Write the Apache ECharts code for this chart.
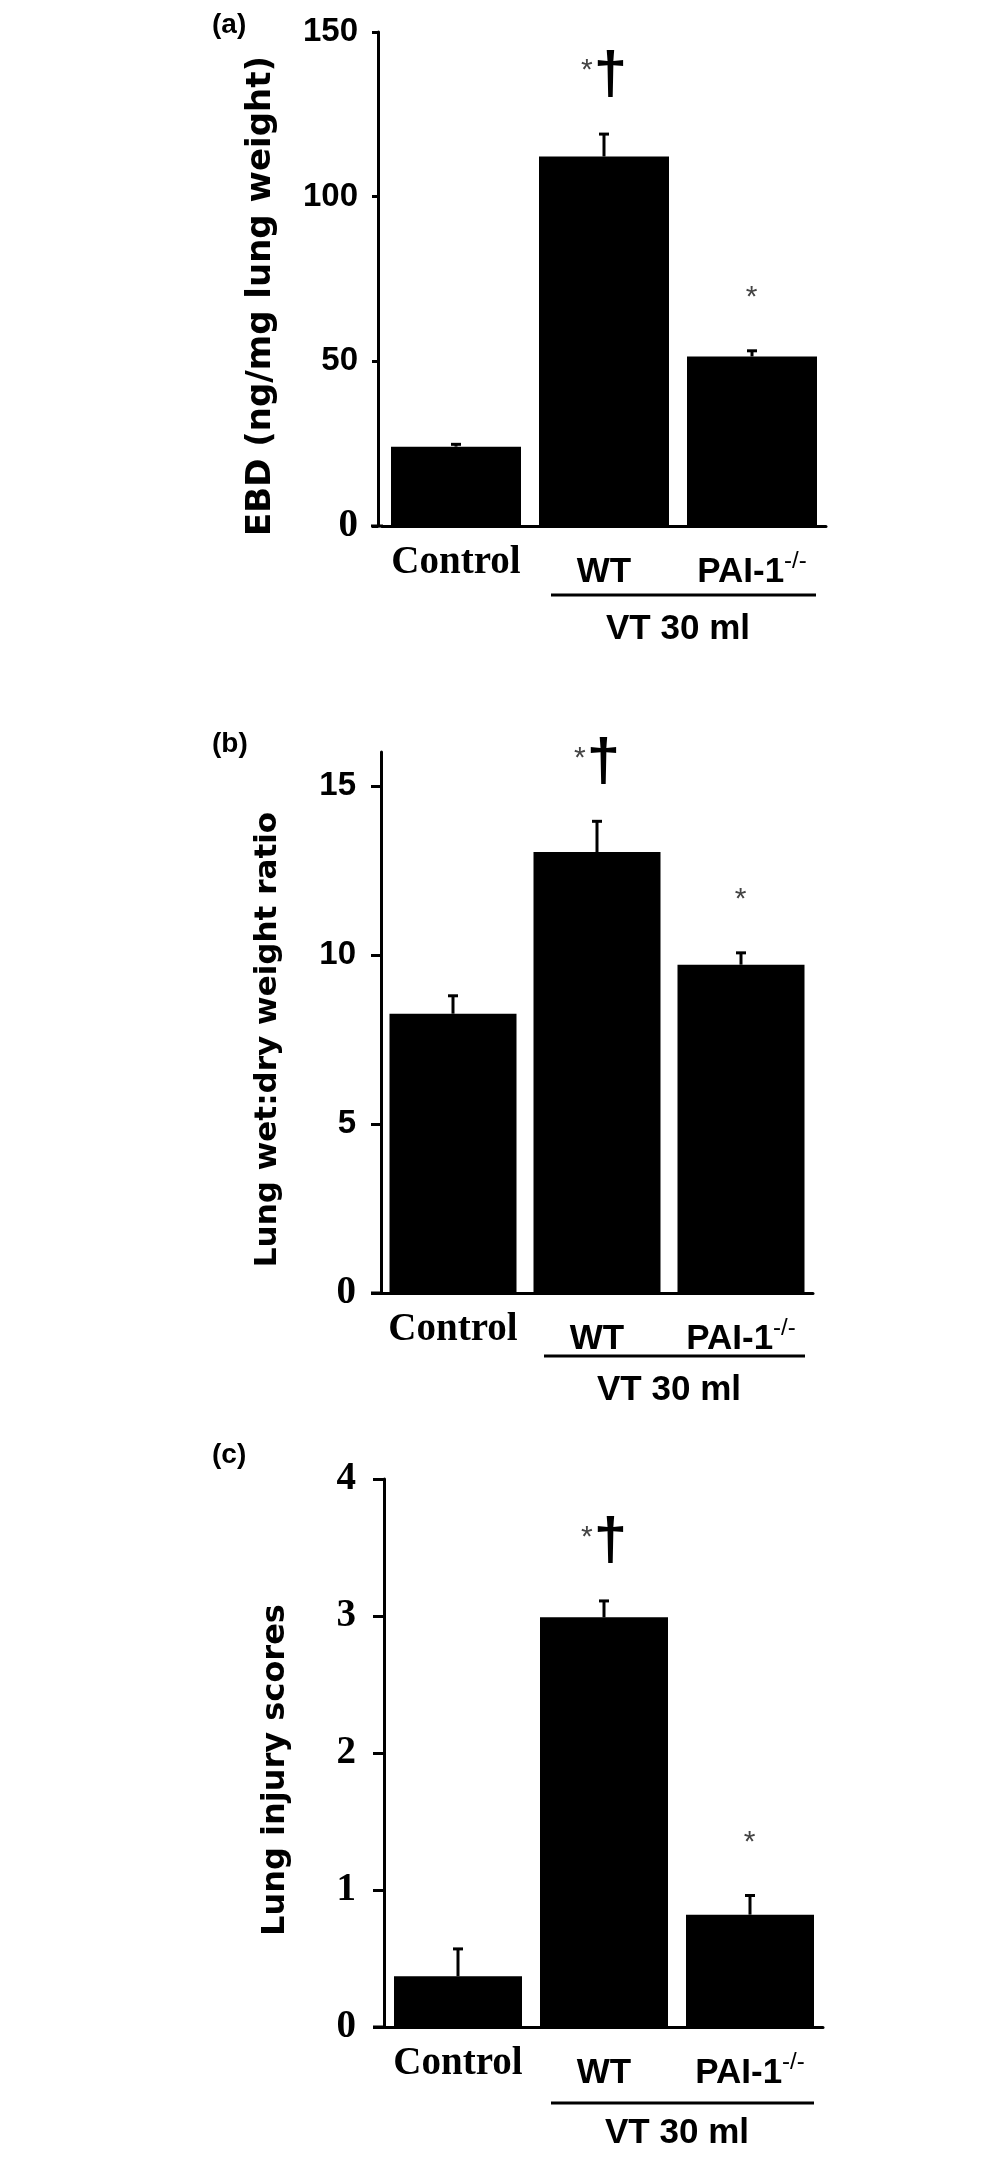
<!DOCTYPE html>
<html style="height: 100%">
<head>
<meta charset="utf-8">
<script src="https://cdn.jsdelivr.net/npm/echarts@6/dist/echarts.min.js"></script>
</head>
<body style="height: 100%; margin: 0; background: #fff;">
<div id="container" style="width: 1004px; height: 2167px"></div>
<script type="text/javascript">
// groups on the x axis
var categories = ['Control', 'WT', 'PAI-1-/-'];

// (a) Evans blue dye, mean and SEM
var ebdMean = [24.1, 112.2, 51.5];
var ebdSem = [0.7, 6.8, 1.7];
// (b) wet:dry ratio
var ratioMean = [8.26, 13.04, 9.71];
var ratioSem = [0.53, 0.91, 0.35];
// (c) lung injury score
var injuryMean = [0.37, 2.99, 0.82];
var injurySem = [0.20, 0.12, 0.14];

// significance marks over each bar
var signif = ['', '*\u2020', '*'];

var ebdTicks = [0, 50, 100, 150];
var ratioTicks = [0, 5, 10, 15];
var injuryTicks = [0, 1, 2, 3, 4];

var yNames = ['EBD (ng/mg lung weight)', 'Lung wet:dry weight ratio', 'Lung injury scores'];
var panelTags = ['(a)', '(b)', '(c)'];
var groupLabel = 'VT 30 ml';

// page layout for the three panels
var layout = [
    {left: 382, top: 32, width: 444, height: 494, yMax: 150, offset: 4, barWidth: 130, nameSize: 34,
     nameGap: 100, stub: 371, tickLen: 6, labelMargin: 20, serif: false, ul: 69, vt: 103, tagY: 25},
    {left: 381, top: 752, width: 432, height: 541, yMax: 16, offset: 0, barWidth: 127, nameSize: 31,
     nameGap: 98, stub: 371, tickLen: 10, labelMargin: 25, serif: false, ul: 63, vt: 97, tagY: 744},
    {left: 385, top: 1479, width: 438, height: 548, yMax: 4, offset: 1, barWidth: 128, nameSize: 32,
     nameGap: 92, stub: 373, tickLen: 11, labelMargin: 28, serif: true, ul: 76, vt: 106, tagY: 1455}
];

var means = [ebdMean, ratioMean, injuryMean];
var sems = [ebdSem, ratioSem, injurySem];
var ticks = [ebdTicks, ratioTicks, injuryTicks];

var dom = document.getElementById('container');
var myChart = echarts.init(dom, null, {renderer: 'canvas'});

var sansBold = {fontFamily: 'Liberation Sans', fontWeight: 'bold', color: '#000'};
var serifBold = {fontFamily: 'Liberation Serif', fontWeight: 'bold', color: '#000'};

function catLabel(v) {
    if (v === 'Control') return '{c|Control}';
    if (v.indexOf('-/-') > 0) return '{w|' + v.replace('-/-', '') + '}{sup|-/-}';
    return '{w|' + v + '}';
}

var markRich = {
    s: {fontSize: 30, fontFamily: 'Liberation Sans', fill: '#444', color: '#444', verticalAlign: 'top', padding: [10, 1, 0, 0]},
    d: {fontSize: 60, fontFamily: 'Liberation Sans', fontWeight: 'bold', fill: '#000', color: '#000'}
};

function markText(m) {
    return m.replace('*', '{s|*}').replace('\u2020', '{d|\u2020}');
}

function errorBars(params, api) {
    var base = api.coord([api.value(0), api.value(1)]);
    var top = api.coord([api.value(0), api.value(2)]);
    var mark = signif[params.dataIndex];
    var children = [
        {type: 'line', shape: {x1: base[0], y1: base[1], x2: top[0], y2: top[1]},
         style: {stroke: '#000', lineWidth: 3}},
        {type: 'line', shape: {x1: top[0] - 5, y1: top[1], x2: top[0] + 5, y2: top[1]},
         style: {stroke: '#000', lineWidth: 3}}
    ];
    if (mark) {
        var lift = mark.indexOf('\u2020') >= 0 ? 28 : 38;
        children.push({
            type: 'text',
            style: {
                x: top[0], y: top[1] - lift,
                text: markText(mark), rich: markRich,
                align: 'center', textAlign: 'center',
                verticalAlign: 'bottom', textVerticalAlign: 'bottom'
            }
        });
    }
    return {type: 'group', children: children};
}

var grids = [], xAxes = [], yAxes = [], series = [];
for (var i = 0; i < 3; i++) {
    var L = layout[i];
    grids.push({left: L.left, top: L.top, width: L.width, height: L.height});
    xAxes.push({
        type: 'category', gridIndex: i, data: categories,
        axisLine: {lineStyle: {color: '#000', width: 3}},
        axisTick: {show: false},
        axisLabel: {
            interval: 0, margin: 17, formatter: catLabel,
            rich: {
                c: Object.assign({fontSize: 39, lineHeight: 40}, serifBold),
                w: Object.assign({fontSize: 35, lineHeight: 58}, sansBold),
                sup: {fontFamily: 'Liberation Sans', fontSize: 24, color: '#000', lineHeight: 20,
                      verticalAlign: 'middle', padding: [0, 0, 22, 0]}
            }
        }
    });
    yAxes.push({
        type: 'value', gridIndex: i, min: 0, max: L.yMax, offset: L.offset,
        name: yNames[i], nameLocation: 'middle', nameRotate: 90, nameGap: L.nameGap,
        nameTextStyle: {fontFamily: 'DejaVu Sans', fontWeight: 'bold', fontSize: L.nameSize, color: '#000',
                        padding: [0, 34, 0, 0]},
        axisLine: {show: true, lineStyle: {color: '#000', width: 3}},
        axisTick: {show: true, length: L.tickLen, customValues: ticks[i],
                   lineStyle: {color: '#000', width: 3}},
        axisLabel: {
            margin: L.labelMargin, customValues: ticks[i],
            formatter: (function (serif) {
                return function (v) { return (serif || v === 0) ? '{z|' + v + '}' : '{n|' + v + '}'; };
            })(L.serif),
            rich: {
                z: Object.assign({fontSize: 39}, serifBold),
                n: Object.assign({fontSize: 33}, sansBold)
            }
        },
        splitLine: {show: false}
    });
    series.push({
        type: 'bar', xAxisIndex: i, yAxisIndex: i, data: means[i],
        barWidth: L.barWidth, itemStyle: {color: '#000'}, silent: true
    });
    series.push({
        type: 'custom', xAxisIndex: i, yAxisIndex: i, renderItem: errorBars, silent: true,
        data: categories.map(function (c, k) {
            return [k, means[i][k], +(means[i][k] + sems[i][k]).toFixed(3)];
        }),
        z: 3
    });
}

var option = {
    animation: false,
    backgroundColor: '#fff',
    grid: grids,
    xAxis: xAxes,
    yAxis: yAxes,
    series: series
};
myChart.setOption(option);

// group underline, group label, tags and the short baseline stub
var graphics = [];
for (var j = 0; j < 3; j++) {
    var P = layout[j];
    var wtX = myChart.convertToPixel({xAxisIndex: j}, 'WT');
    var paiX = myChart.convertToPixel({xAxisIndex: j}, categories[2]);
    var base = myChart.convertToPixel({yAxisIndex: j}, 0);
    graphics.push({type: 'line', shape: {x1: wtX - 53, y1: base + P.ul, x2: paiX + 64, y2: base + P.ul},
                   style: {stroke: '#000', lineWidth: 3}});
    graphics.push({type: 'text', x: (wtX + paiX) / 2, y: base + P.vt,
                   style: {text: groupLabel, font: 'bold 35px "Liberation Sans"', fill: '#000',
                           textAlign: 'center', textVerticalAlign: 'middle'}});
    graphics.push({type: 'line', shape: {x1: P.stub, y1: base, x2: P.left + 1, y2: base},
                   style: {stroke: '#000', lineWidth: 3}});
    graphics.push({type: 'text', x: 212, y: P.tagY,
                   style: {text: panelTags[j], font: 'bold 28px "Liberation Sans"', fill: '#000',
                           textAlign: 'left', textVerticalAlign: 'middle'}});
}
myChart.setOption({graphic: graphics});
</script>
</body>
</html>
